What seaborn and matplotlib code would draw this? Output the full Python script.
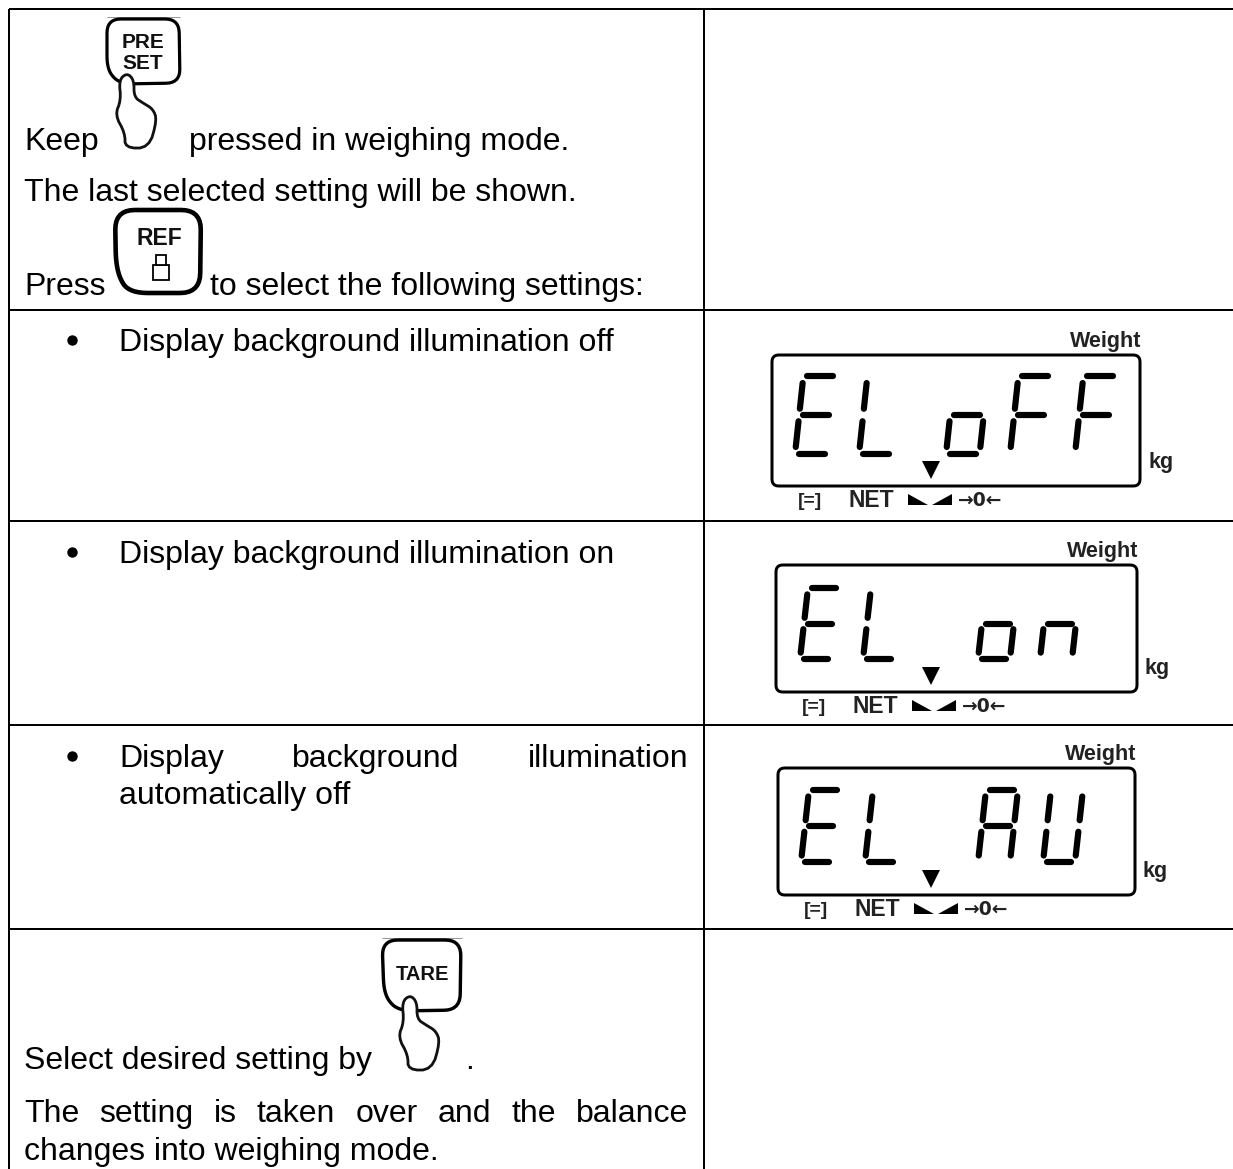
import numpy as np
import pandas as pd
import matplotlib
matplotlib.use("Agg")
import matplotlib.pyplot as plt
from matplotlib.patches import Polygon
import seaborn as sns

# table rules
col_rule_x = [9, 704]
row_rule_y = [9, 310, 521, 725, 929]
page_w, page_h = 1233, 1169

# plain text lines: text, x, baseline y
plain_lines = [
    ("Keep", 24, 150),
    ("pressed in weighing mode.", 189, 150),
    ("The last selected setting will be shown.", 24, 201),
    ("Press", 24, 295),
    ("to select the following settings:", 210, 295),
    ("Display background illumination off", 119, 351),
    ("Display background illumination on", 119, 563),
    ("automatically off", 119, 804),
    ("Select desired setting by", 24, 1069),
    (".", 465, 1069),
    ("changes into weighing mode.", 24, 1160),
]
justified_lines = [
    ("Display background illumination", 119, 688, 767),
    ("The setting is taken over and the balance", 24, 688, 1122),
]
bullet_y = [340, 552, 756]

# lcd panels
lcd_left = [772, 776, 778]
lcd_right = [1140, 1137, 1135]
lcd_top = [355, 565, 768]
lcd_bottom = [486, 692, 895]
lcd_chars = [["E", "L", "o", "F", "F"], ["E", "L", "o", "n"], ["E", "L", "A", "U"]]
lcd_char_x = [[792, 856, 943, 1007, 1072], [797, 860, 975, 1037], [798, 862, 975, 1040]]
lcd_char_top = [373, 585, 787]
lcd_char_bottom = [457, 662, 865]
lcd_char_w = [48, 46, 46]
lcd_arrow_x = [931, 931, 931]

segments = {
    "a": [(0.12, 1), (0.88, 1)], "b": [(1, 0.91), (1, 0.58)], "c": [(1, 0.42), (1, 0.09)],
    "d": [(0.12, 0), (0.88, 0)], "e": [(0, 0.09), (0, 0.42)], "f": [(0, 0.58), (0, 0.91)],
    "g": [(0.12, 0.5), (0.88, 0.5)],
}
glyphs = {"E": "afged", "L": "fed", "o": "gecd", "F": "afge", "n": "gec", "A": "abcefg", "U": "bcdef"}

hand = [(127, 73), (119, 80), (121, 100), (115, 115), (125, 133), (125, 148), (149, 148),
        (157, 120), (153, 109), (143, 103), (134, 97), (134, 80)]

sns.set_theme(style="white")
plt.rcParams["font.family"] = ["Liberation Sans", "DejaVu Sans"]

fig = plt.figure(figsize=(12.33, 11.69), dpi=100)
ax = fig.add_axes([0, 0, 1, 1])
PX = 0.72
BODY = 23.05


def smooth(points, rounds=3):
    pts = np.array(points, dtype=float)
    for _ in range(rounds):
        nxt = np.roll(pts, -1, axis=0)
        pts = np.column_stack([0.75 * pts + 0.25 * nxt, 0.25 * pts + 0.75 * nxt]).reshape(-1, 2)
    return pts


def rounded(points, r):
    pts = np.array(points, dtype=float)
    out = []
    for i, p in enumerate(pts):
        prev, nxt = pts[i - 1], pts[(i + 1) % len(pts)]
        r1 = min(r, 0.45 * np.linalg.norm(prev - p))
        r2 = min(r, 0.45 * np.linalg.norm(nxt - p))
        a = p + (prev - p) / np.linalg.norm(prev - p) * r1
        b = p + (nxt - p) / np.linalg.norm(nxt - p) * r2
        for t in np.linspace(0, 1, 9):
            out.append((1 - t) ** 2 * a + 2 * t * (1 - t) * p + t ** 2 * b)
    return np.array(out)


def key(points, r, lw):
    ax.add_patch(Polygon(rounded(points, r), closed=True, fc="white", ec="black", lw=lw * PX,
                         joinstyle="round", zorder=3))


def draw_hand(dx=0, dy=0):
    pts = smooth(hand, 2) + [dx, dy]
    ax.add_patch(Polygon(pts, closed=True, fc="white", ec="#111111", lw=2.8 * PX, joinstyle="round", zorder=3))


def rule(xs, ys, lw=2.0, color="black", cap="butt", zorder=2):
    sns.lineplot(x=xs, y=ys, color=color, lw=lw * PX, sort=False, estimator=None, legend=False,
                 ax=ax, solid_capstyle=cap, zorder=zorder)


# table
rule([col_rule_x[0]] * 2, [row_rule_y[0], page_h])
rule([col_rule_x[1]] * 2, [row_rule_y[0], page_h])
for y in row_rule_y:
    rule([col_rule_x[0], page_w], [y, y])

# text
for txt, x, y in plain_lines:
    ax.text(x, y, txt, fontsize=BODY, va="baseline", ha="left", color="black")
for y in bullet_y:
    ax.plot([72], [y], "o", color="black", ms=9 * PX)

fig.canvas.draw()
rend = fig.canvas.get_renderer()
for line, x0, x1, y in justified_lines:
    words = line.split()
    arts = [ax.text(0, y, w, fontsize=BODY, va="baseline", ha="left", color="black") for w in words]
    widths = [a.get_window_extent(rend).width for a in arts]
    gap = (x1 - x0 - sum(widths)) / (len(words) - 1)
    x = x0
    for a, w in zip(arts, widths):
        a.set_x(x)
        x += w + gap

# keys
rule([107, 180], [17, 17], lw=1, color="#999999")
key([(107, 19), (179, 19), (180, 83), (120, 84), (107, 70)], 14, 3.2)
ax.text(143, 48, "PRE", fontsize=15, fontweight="bold", ha="center", va="baseline", color="#111111", zorder=4)
ax.text(143, 69, "SET", fontsize=15, fontweight="bold", ha="center", va="baseline", color="#111111", zorder=4)
draw_hand()

key([(115, 210), (201, 210), (200, 293), (128, 293), (116, 270)], 20, 4.6)
ax.text(159, 245, "REF", fontsize=16.5, fontweight="bold", ha="center", va="baseline", color="#111111", zorder=4)
ax.add_patch(Polygon([(153, 265), (169, 265), (169, 280), (153, 280)], closed=True, fc="white", ec="black",
                     lw=1.8 * PX, zorder=4))
ax.add_patch(Polygon([(156, 255), (166, 255), (166, 265), (156, 265)], closed=True, fc="white", ec="black",
                     lw=1.8 * PX, zorder=4))

rule([382, 462], [938, 938], lw=1, color="#999999")
key([(382, 940), (461, 940), (460, 1010), (398, 1011), (384, 995)], 16, 3.4)
ax.text(423, 980, "TARE", fontsize=14.5, fontweight="bold", ha="center", va="baseline", color="#111111", zorder=4)
draw_hand(dx=283, dy=922)

# lcd panels
for i in range(3):
    l, r, t, b = lcd_left[i], lcd_right[i], lcd_top[i], lcd_bottom[i]
    ax.add_patch(Polygon(rounded([(l, t), (r, t), (r, b), (l, b)], 7), closed=True, fc="none", ec="black",
                         lw=3 * PX, zorder=3))
    ax.text(r + 1, t - 8, "Weight", fontsize=15.5, fontweight="bold", ha="right", va="baseline", color="#222222")
    ax.text(r + 8, b - 18, "kg", fontsize=15.5, fontweight="bold", ha="left", va="baseline", color="#222222")

    w, top, bot = lcd_char_w[i], lcd_char_top[i], lcd_char_bottom[i]
    rows = []
    seg_id = 0
    for ch, x0 in zip(lcd_chars[i], lcd_char_x[i]):
        for s in glyphs[ch]:
            for u, v in segments[s]:
                rows.append({"seg": seg_id, "x": x0 + 3 + 0.8 * (w - 6) * u + 0.2 * (w - 6) * v,
                             "y": bot - 3 - (bot - top - 6) * v})
            seg_id += 1
    df = pd.DataFrame(rows)
    sns.lineplot(data=df, x="x", y="y", units="seg", estimator=None, sort=False, color="black", lw=6.2 * PX,
                 legend=False, ax=ax, solid_capstyle="round", zorder=4)

    ax_x = lcd_arrow_x[i]
    ax.add_patch(Polygon([(ax_x - 9, b - 25), (ax_x + 9, b - 25), (ax_x, b - 7)], closed=True, fc="black",
                         ec="none", zorder=4))
    row_y = b + 22
    ax.text(l + 26, row_y - 2, "[=]", fontsize=14, fontweight="bold", ha="left", va="baseline", color="#222222")
    ax.text(l + 76, row_y - 1, "NET", fontsize=16.5, fontweight="bold", ha="left", va="baseline", color="#222222")
    ax.add_patch(Polygon([(l + 136, row_y - 14), (l + 136, row_y - 3), (l + 156, row_y - 3)], closed=True,
                         fc="black", ec="none"))
    ax.add_patch(Polygon([(l + 160, row_y - 3), (l + 180, row_y - 3), (l + 180, row_y - 14)], closed=True,
                         fc="black", ec="none"))
    ax.text(l + 186, row_y - 2, "→0←", fontsize=13.5, fontweight="bold", family="DejaVu Sans", ha="left",
            va="baseline", color="#222222")

ax.set_xlim(0, page_w)
ax.set_ylim(page_h, 0)
ax.axis("off")
fig.savefig("out.png", dpi=100, facecolor="white")
